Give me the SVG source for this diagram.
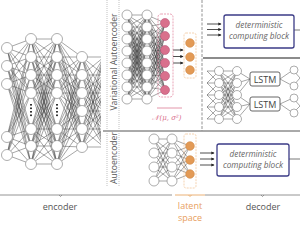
<svg xmlns="http://www.w3.org/2000/svg" width="300" height="225" viewBox="0 0 300 225">
<style>
.n{fill:#fff;stroke:#8a8a8a;stroke-width:0.7}
.e{fill:none;stroke:#3a3a3a;stroke-width:0.45}
.pk{fill:#d9708c;stroke:#b9587a;stroke-width:0.6}
.or{fill:#e39a55;stroke:#cf8642;stroke-width:0.6}
.t{font-family:"Open Sans","Liberation Sans",sans-serif;fill:#555}
.blk{fill:#fff;stroke:#3b3b86;stroke-width:1.3}
.bt{font-family:"Open Sans","Liberation Sans",sans-serif;font-style:italic;font-size:8.2px;fill:#666;text-anchor:middle}
.ar{stroke:#222;stroke-width:0.8;marker-end:url(#ah)}
.sep{stroke:#555;stroke-width:1;fill:none}
.dot{stroke:#999;stroke-width:0.6;stroke-dasharray:1 1;fill:none}
</style>
<defs>
<marker id="ah" viewBox="0 0 6 6" refX="5" refY="3" markerWidth="4" markerHeight="4" orient="auto"><path d="M0 0L6 3L0 6z" fill="#222"/></marker>
<clipPath id="encclip"><rect x="0" y="0" width="101" height="190"/></clipPath>
</defs>

<g id="connectors">
<g clip-path="url(#encclip)">
<path class="e" d="M7 48 31 39M7 48 31 57M7 48 31 75M7 48 31 93M7 48 31 129M7 48 31 146M7 48 31 164M7 66 31 39M7 66 31 57M7 66 31 75M7 66 31 93M7 66 31 129M7 66 31 146M7 66 31 164M7 84 31 39M7 84 31 57M7 84 31 75M7 84 31 93M7 84 31 129M7 84 31 146M7 84 31 164M7 137 31 39M7 137 31 57M7 137 31 75M7 137 31 93M7 137 31 129M7 137 31 146M7 137 31 164M7 155 31 39M7 155 31 57M7 155 31 75M7 155 31 93M7 155 31 129M7 155 31 146M7 155 31 164"/>
<path class="e" d="M31 39 57 39M31 39 57 57M31 39 57 75M31 39 57 93M31 39 57 129M31 39 57 146M31 39 57 164M31 57 57 39M31 57 57 57M31 57 57 75M31 57 57 93M31 57 57 129M31 57 57 146M31 57 57 164M31 75 57 39M31 75 57 57M31 75 57 75M31 75 57 93M31 75 57 129M31 75 57 146M31 75 57 164M31 93 57 39M31 93 57 57M31 93 57 75M31 93 57 93M31 93 57 129M31 93 57 146M31 93 57 164M31 129 57 39M31 129 57 57M31 129 57 75M31 129 57 93M31 129 57 129M31 129 57 146M31 129 57 164M31 146 57 39M31 146 57 57M31 146 57 75M31 146 57 93M31 146 57 129M31 146 57 146M31 146 57 164M31 164 57 39M31 164 57 57M31 164 57 75M31 164 57 93M31 164 57 129M31 164 57 146M31 164 57 164"/>
<path class="e" d="M57 39 82 57M57 39 82 75M57 39 82 93M57 39 82 111M57 39 82 129M57 39 82 147M57 57 82 57M57 57 82 75M57 57 82 93M57 57 82 111M57 57 82 129M57 57 82 147M57 75 82 57M57 75 82 75M57 75 82 93M57 75 82 111M57 75 82 129M57 75 82 147M57 93 82 57M57 93 82 75M57 93 82 93M57 93 82 111M57 93 82 129M57 93 82 147M57 129 82 57M57 129 82 75M57 129 82 93M57 129 82 111M57 129 82 129M57 129 82 147M57 146 82 57M57 146 82 75M57 146 82 93M57 146 82 111M57 146 82 129M57 146 82 147M57 164 82 57M57 164 82 75M57 164 82 93M57 164 82 111M57 164 82 129M57 164 82 147"/>
<path class="e" d="M82 57 104 57M82 57 104 75M82 57 104 93M82 57 104 111M82 57 104 129M82 57 104 147M82 75 104 57M82 75 104 75M82 75 104 93M82 75 104 111M82 75 104 129M82 75 104 147M82 93 104 57M82 93 104 75M82 93 104 93M82 93 104 111M82 93 104 129M82 93 104 147M82 111 104 57M82 111 104 75M82 111 104 93M82 111 104 111M82 111 104 129M82 111 104 147M82 129 104 57M82 129 104 75M82 129 104 93M82 129 104 111M82 129 104 129M82 129 104 147M82 147 104 57M82 147 104 75M82 147 104 93M82 147 104 111M82 147 104 129M82 147 104 147"/>
</g>
<path class="e" d="M127 15 147 15M127 15 147 27M127 15 147 39M127 15 147 51M127 15 147 63M127 15 147 75M127 15 147 87M127 15 147 99M127 27 147 15M127 27 147 27M127 27 147 39M127 27 147 51M127 27 147 63M127 27 147 75M127 27 147 87M127 27 147 99M127 39 147 15M127 39 147 27M127 39 147 39M127 39 147 51M127 39 147 63M127 39 147 75M127 39 147 87M127 39 147 99M127 51 147 15M127 51 147 27M127 51 147 39M127 51 147 51M127 51 147 63M127 51 147 75M127 51 147 87M127 51 147 99M127 63 147 15M127 63 147 27M127 63 147 39M127 63 147 51M127 63 147 63M127 63 147 75M127 63 147 87M127 63 147 99M127 75 147 15M127 75 147 27M127 75 147 39M127 75 147 51M127 75 147 63M127 75 147 75M127 75 147 87M127 75 147 99M127 87 147 15M127 87 147 27M127 87 147 39M127 87 147 51M127 87 147 63M127 87 147 75M127 87 147 87M127 87 147 99M127 99 147 15M127 99 147 27M127 99 147 39M127 99 147 51M127 99 147 63M127 99 147 75M127 99 147 87M127 99 147 99"/>
<path class="e" d="M147 15 165 23M147 15 165 36M147 15 165 50M147 15 165 63M147 15 165 76M147 15 165 90M147 27 165 23M147 27 165 36M147 27 165 50M147 27 165 63M147 27 165 76M147 27 165 90M147 39 165 23M147 39 165 36M147 39 165 50M147 39 165 63M147 39 165 76M147 39 165 90M147 51 165 23M147 51 165 36M147 51 165 50M147 51 165 63M147 51 165 76M147 51 165 90M147 63 165 23M147 63 165 36M147 63 165 50M147 63 165 63M147 63 165 76M147 63 165 90M147 75 165 23M147 75 165 36M147 75 165 50M147 75 165 63M147 75 165 76M147 75 165 90M147 87 165 23M147 87 165 36M147 87 165 50M147 87 165 63M147 87 165 76M147 87 165 90M147 99 165 23M147 99 165 36M147 99 165 50M147 99 165 63M147 99 165 76M147 99 165 90"/>
<path class="e" d="M154 139 172 139M154 139 172 153M154 139 172 167M154 139 172 181M154 153 172 139M154 153 172 153M154 153 172 167M154 153 172 181M154 167 172 139M154 167 172 153M154 167 172 167M154 167 172 181M154 181 172 139M154 181 172 153M154 181 172 167M154 181 172 181M172 139 190 146M172 139 190 160M172 139 190 174M172 153 190 146M172 153 190 160M172 153 190 174M172 167 190 146M172 167 190 160M172 167 190 174M172 181 190 146M172 181 190 160M172 181 190 174"/>
<path class="e" d="M207 71 219 71M207 71 219 83M207 83 219 71M207 83 219 83M207 83 219 95M207 95 219 83M207 95 219 95M207 95 219 107M207 107 219 95M207 107 219 107M207 107 219 119M207 119 219 107M207 119 219 119M219 71 237 71M219 71 237 83M219 71 237 95M219 71 237 107M219 71 237 119M219 83 237 71M219 83 237 83M219 83 237 95M219 83 237 107M219 83 237 119M219 95 237 71M219 95 237 83M219 95 237 95M219 95 237 107M219 95 237 119M219 107 237 71M219 107 237 83M219 107 237 95M219 107 237 107M219 107 237 119M219 119 237 71M219 119 237 83M219 119 237 95M219 119 237 107M219 119 237 119M237 71 250 79M237 83 250 79M237 95 250 79M237 95 250 104M237 107 250 104M237 119 250 104M280 79 293 70M280 79 293 86M280 104 293 98M280 104 293 113M293 70 300 78M293 86 300 78M293 98 300 106M293 113 300 106"/>
<path class="ar" d="M173 50H183"/>
<path class="ar" d="M173 56.5H183"/>
<path class="ar" d="M173 63H183"/>
<path class="ar" d="M207 24H221"/>
<path class="ar" d="M207 29.5H221"/>
<path class="ar" d="M207 35H221"/>
<path class="ar" d="M200 153H214"/>
<path class="ar" d="M200 159H214"/>
<path class="ar" d="M200 165H214"/>
<path d="M294 30H300M289 159H300" stroke="#555" stroke-width="0.8"/>
</g>

<g id="separators">
<path class="dot" d="M107 0V130M119 0V130M107 133V186M119 133V186"/>
<path class="sep" d="M103 131H300"/>
<path d="M203 58H300" stroke="#666" stroke-width="1.5"/>
<path d="M202 0V131" stroke="#777" stroke-width="0.8" stroke-dasharray="3 1.5"/>
<path d="M0 195H172M59 195l1.5 1.5 1.5-1.5M205 195H300M261 195l1.5 1.5 1.5-1.5" stroke="#888" stroke-width="0.9" fill="none"/>
<path d="M175 195H205M188.5 195l1.5 1.5 1.5-1.5" stroke="#e8a868" stroke-width="0.9" fill="none"/>
<path d="M157 108H182" stroke="#e08aa0" stroke-width="0.9"/>
</g>

<g id="encoder">
<g class="n">
<circle cx="7" cy="48" r="5.5"/><circle cx="7" cy="66" r="5.5"/><circle cx="7" cy="84" r="5.5"/><circle cx="7" cy="137" r="5.5"/><circle cx="7" cy="155" r="5.5"/>
<circle cx="31" cy="39" r="5.5"/><circle cx="31" cy="57" r="5.5"/><circle cx="31" cy="75" r="5.5"/><circle cx="31" cy="93" r="5.5"/><circle cx="31" cy="129" r="5.5"/><circle cx="31" cy="146" r="5.5"/><circle cx="31" cy="164" r="5.5"/>
<circle cx="57" cy="39" r="5.5"/><circle cx="57" cy="57" r="5.5"/><circle cx="57" cy="75" r="5.5"/><circle cx="57" cy="93" r="5.5"/><circle cx="57" cy="129" r="5.5"/><circle cx="57" cy="146" r="5.5"/><circle cx="57" cy="164" r="5.5"/>
<circle cx="82" cy="57" r="5.5"/><circle cx="82" cy="75" r="5.5"/><circle cx="82" cy="93" r="5.5"/><circle cx="82" cy="111" r="5.5"/><circle cx="82" cy="129" r="5.5"/><circle cx="82" cy="147" r="5.5"/>
</g>
<g fill="#333"><rect x="30" y="104" width="2" height="1.6"/><rect x="30" y="107.5" width="2" height="1.6"/><rect x="30" y="111" width="2" height="1.6"/><rect x="30" y="114.5" width="2" height="1.6"/><rect x="56" y="104" width="2" height="1.6"/><rect x="56" y="107.5" width="2" height="1.6"/><rect x="56" y="111" width="2" height="1.6"/><rect x="56" y="114.5" width="2" height="1.6"/></g>
<text class="t" x="60" y="210" font-size="9" text-anchor="middle">encoder</text>
</g>

<g id="vae">
<text class="t" transform="translate(116.5 62) rotate(-90)" font-size="8.6" text-anchor="middle">Variational Autoencoder</text>
<g class="n">
<circle cx="127" cy="15" r="5"/><circle cx="127" cy="27" r="5"/><circle cx="127" cy="39" r="5"/><circle cx="127" cy="51" r="5"/><circle cx="127" cy="63" r="5"/><circle cx="127" cy="75" r="5"/><circle cx="127" cy="87" r="5"/><circle cx="127" cy="99" r="5"/>
<circle cx="147" cy="15" r="5"/><circle cx="147" cy="27" r="5"/><circle cx="147" cy="39" r="5"/><circle cx="147" cy="51" r="5"/><circle cx="147" cy="63" r="5"/><circle cx="147" cy="75" r="5"/><circle cx="147" cy="87" r="5"/><circle cx="147" cy="99" r="5"/>
</g>
<rect x="158" y="14" width="15" height="83" rx="3" fill="none" stroke="#e07c98" stroke-width="0.7" stroke-dasharray="2 1"/>
<g class="pk"><circle cx="165" cy="23" r="4.5"/><circle cx="165" cy="36" r="4.5"/><circle cx="165" cy="50" r="4.5"/><circle cx="165" cy="63" r="4.5"/><circle cx="165" cy="76" r="4.5"/><circle cx="165" cy="90" r="4.5"/></g>
<rect x="184" y="33" width="12" height="45" rx="2" fill="none" stroke="#f0c090" stroke-width="0.7" stroke-dasharray="2 1"/>
<g class="or"><circle cx="190" cy="43" r="4.3"/><circle cx="190" cy="57" r="4.3"/><circle cx="190" cy="70" r="4.3"/></g>
<text x="167" y="120" font-family="DejaVu Serif, serif" font-style="italic" font-size="7" fill="#d9708c" text-anchor="middle">𝒩(μ, σ²)</text>
</g>

<g id="ae">
<text class="t" transform="translate(116.5 158) rotate(-90)" font-size="8.6" text-anchor="middle">Autoencoder</text>
<g class="n"><circle cx="154" cy="139" r="5"/><circle cx="154" cy="153" r="5"/><circle cx="154" cy="167" r="5"/><circle cx="154" cy="181" r="5"/><circle cx="172" cy="139" r="5"/><circle cx="172" cy="153" r="5"/><circle cx="172" cy="167" r="5"/><circle cx="172" cy="181" r="5"/></g>
<rect x="184" y="134" width="12" height="54" rx="2" fill="none" stroke="#f0c090" stroke-width="0.7" stroke-dasharray="2 1"/>
<g class="or"><circle cx="190" cy="146" r="4.3"/><circle cx="190" cy="160" r="4.3"/><circle cx="190" cy="174" r="4.3"/></g>
<text class="t" x="190" y="209" font-size="9" text-anchor="middle" style="fill:#e8a060">latent</text>
<text class="t" x="190" y="221" font-size="9" text-anchor="middle" style="fill:#e8a060">space</text>
</g>

<g id="det-top">
<rect class="blk" x="224" y="15" width="70" height="33" rx="2"/>
<text class="bt" x="259" y="28">deterministic</text>
<text class="bt" x="259" y="39">computing block</text>
</g>

<g id="lstm-net">
<g class="n"><circle cx="219" cy="71" r="4.5"/><circle cx="219" cy="83" r="4.5"/><circle cx="219" cy="95" r="4.5"/><circle cx="219" cy="107" r="4.5"/><circle cx="219" cy="119" r="4.5"/><circle cx="237" cy="71" r="4.5"/><circle cx="237" cy="83" r="4.5"/><circle cx="237" cy="95" r="4.5"/><circle cx="237" cy="107" r="4.5"/><circle cx="237" cy="119" r="4.5"/>
<circle cx="294" cy="70" r="4"/><circle cx="294" cy="86" r="4"/><circle cx="294" cy="98" r="4"/><circle cx="294" cy="113" r="4"/></g>
<rect x="250" y="72" width="30" height="14" rx="2" fill="#fff" stroke="#666" stroke-width="1"/>
<text class="t" x="265" y="82.5" font-size="9" text-anchor="middle" style="fill:#444">LSTM</text>
<rect x="250" y="97" width="30" height="14" rx="2" fill="#fff" stroke="#666" stroke-width="1"/>
<text class="t" x="265" y="107.5" font-size="9" text-anchor="middle" style="fill:#444">LSTM</text>
</g>

<g id="det-bottom">
<rect class="blk" x="217" y="144" width="72" height="32" rx="2"/>
<text class="bt" x="253" y="157">deterministic</text>
<text class="bt" x="253" y="168">computing block</text>
<text class="t" x="263" y="210" font-size="9" text-anchor="middle">decoder</text>
</g>
</svg>
